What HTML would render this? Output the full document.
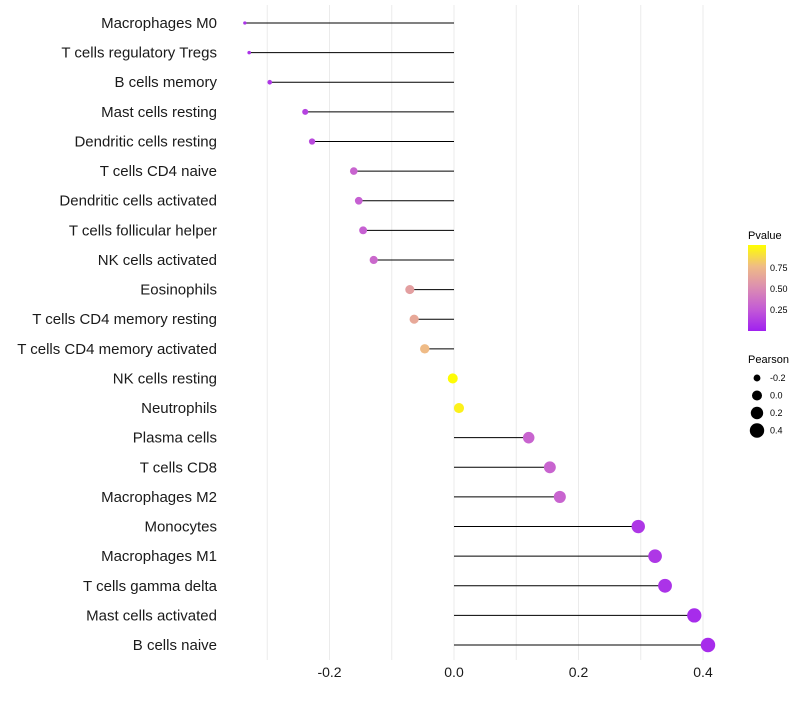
<!DOCTYPE html>
<html><head><meta charset="utf-8"><style>
body{margin:0;background:#fff;font-family:"Liberation Sans",sans-serif}
</style></head><body>
<svg id="chart" width="800" height="700" xmlns="http://www.w3.org/2000/svg" font-family="Liberation Sans, sans-serif">
<defs><linearGradient id="pg" x1="0" y1="1" x2="0" y2="0">
<stop offset="0" stop-color="#a020f0"/><stop offset="0.25" stop-color="#c35ad6"/><stop offset="0.5" stop-color="#db8cb2"/><stop offset="0.75" stop-color="#efbb86"/><stop offset="1" stop-color="#ffff00"/></linearGradient></defs>
<g id="grid"></g>
<g id="marks"></g>
<g id="ylabels"></g>
<g id="xticks"></g>
<g>
<text x="748" y="239" font-size="11">Pvalue</text>
<rect x="748" y="245" width="18" height="86" fill="url(#pg)"/>
<text x="770" y="271" font-size="9">0.75</text>
<text x="770" y="292" font-size="9">0.50</text>
<text x="770" y="313" font-size="9">0.25</text>
</g>
<g id="sizeleg">
<text x="748" y="363" font-size="11">Pearson</text>
</g>
</svg>
<script>
const categories=["Macrophages M0","T cells regulatory  Tregs","B cells memory","Mast cells resting","Dendritic cells resting","T cells CD4 naive","Dendritic cells activated","T cells follicular helper","NK cells activated","Eosinophils","T cells CD4 memory resting","T cells CD4 memory activated","NK cells resting","Neutrophils","Plasma cells","T cells CD8","Macrophages M2","Monocytes","Macrophages M1","T cells gamma delta","Mast cells activated","B cells naive"];
const pearson=[-0.336,-0.329,-0.296,-0.239,-0.228,-0.161,-0.153,-0.146,-0.129,-0.071,-0.064,-0.047,-0.002,0.008,0.120,0.154,0.170,0.296,0.323,0.339,0.386,0.408];
const pvalues=[0.08,0.08,0.1,0.15,0.18,0.3,0.28,0.28,0.32,0.6,0.65,0.75,0.99,0.95,0.3,0.3,0.3,0.1,0.1,0.08,0.05,0.05];
const xTicks=[-0.2,0.0,0.2,0.4];
const xTickLabels=["-0.2","0.0","0.2","0.4"];
const sizeLegend=[-0.2,0.0,0.2,0.4];
const sizeLegendLabels=["-0.2","0.0","0.2","0.4"];
const NS="http://www.w3.org/2000/svg";
const x=v=>454+v*622.5;
const y=i=>23+i*29.62;
const r=v=>Math.sqrt(2.5+(v+0.34)/0.75*50);
const stops=[[0,[160,32,240]],[0.25,[195,90,214]],[0.5,[219,140,178]],[0.75,[239,187,134]],[1,[255,255,0]]];
function col(p){for(let k=1;k<stops.length;k++){if(p<=stops[k][0]){const a=stops[k-1],b=stops[k],t=(p-a[0])/(b[0]-a[0]);return "rgb("+a[1].map((c,j)=>Math.round(c+(b[1][j]-c)*t)).join(",")+")";}}return "rgb(255,255,0)";}
function mk(tag,attrs,parent){const e=document.createElementNS(NS,tag);for(const k in attrs)e.setAttribute(k,attrs[k]);parent.appendChild(e);return e;}
const grid=document.getElementById("grid");
for(let v=-0.3;v<=0.41;v+=0.1){const g=mk("line",{x1:x(v),x2:x(v),y1:5,y2:660,stroke:"#ebebeb","stroke-width":1},grid);

}
const marks=document.getElementById("marks"),yl=document.getElementById("ylabels");
categories.forEach((c,i)=>{
const s=mk("line",{x1:x(0),x2:x(pearson[i]),y1:y(i),y2:y(i),stroke:"#000","stroke-width":1},marks);


const d=mk("circle",{cx:x(pearson[i]),cy:y(i),r:r(pearson[i]),fill:col(pvalues[i])},marks);


const t=mk("text",{x:217,y:y(i)+5,"text-anchor":"end","font-size":15,fill:"#1a1a1a"},yl);
t.textContent=c;


});
const xt=document.getElementById("xticks");
xTicks.forEach((v,i)=>{const t=mk("text",{x:x(v),y:677,"text-anchor":"middle","font-size":14,fill:"#1a1a1a"},xt);
t.textContent=xTickLabels[i];

});
const sl=document.getElementById("sizeleg");
sizeLegend.forEach((v,i)=>{const cy=378+i*17.5;
const c=mk("circle",{cx:757,cy:cy,r:r(v),fill:"#000"},sl);


const t=mk("text",{x:770,y:cy+3,"font-size":9},sl);t.textContent=sizeLegendLabels[i];

});
</script>
</body></html>
